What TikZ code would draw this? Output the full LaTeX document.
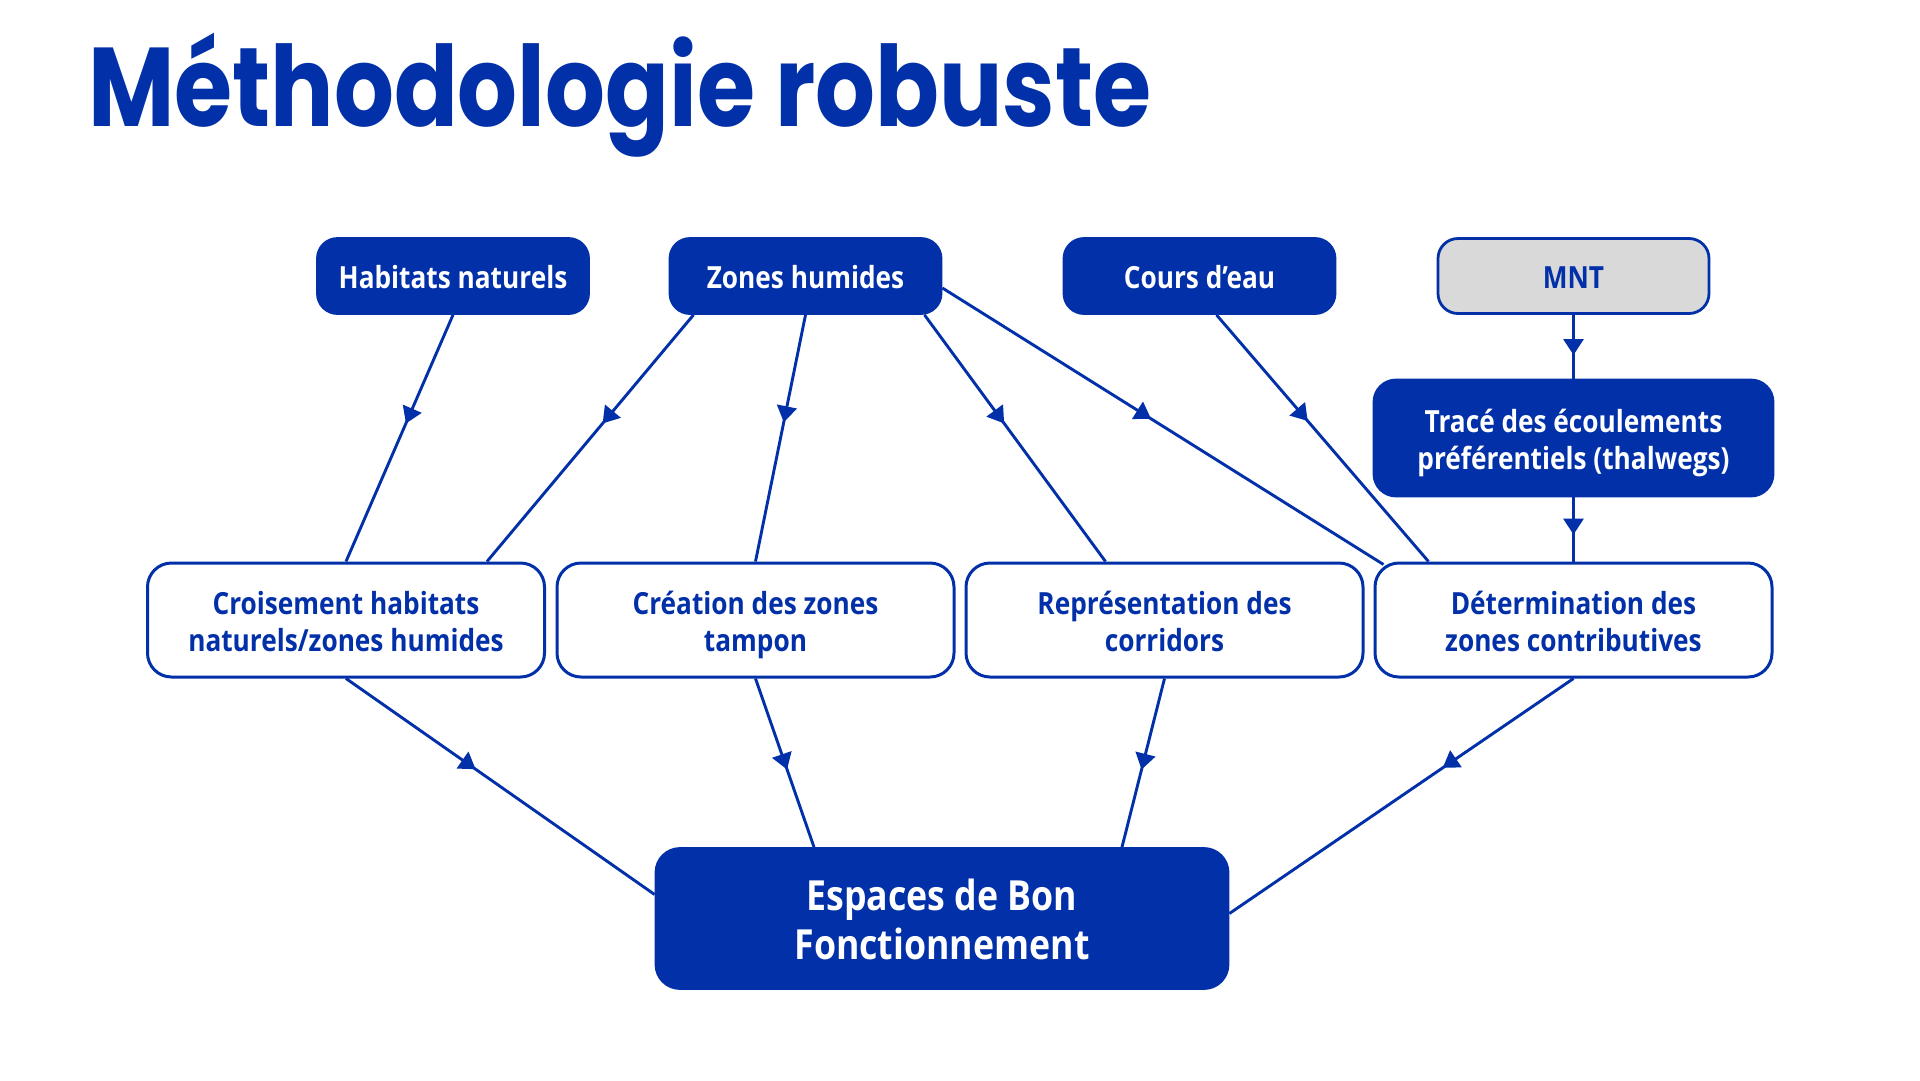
\documentclass[tikz,border=0pt]{standalone}
\usepackage{fontspec}
\setmainfont{Open Sans}[FakeStretch=0.86]
\newfontfamily\titlefont{Poppins}[FakeStretch=0.84]
\usetikzlibrary{arrows.meta,decorations.markings,calc}
\definecolor{bl}{HTML}{0230A8}
\definecolor{gr}{HTML}{D9D9D9}
\newcommand\mystrut{\rule[-0.25\baselineskip]{0pt}{1.18\baselineskip}}
\newcommand\boxfont[2]{\bfseries\fontsize{#1}{#2}\selectfont\lineskiplimit=-100pt\lineskip=0pt\relax}
\begin{document}
\begin{tikzpicture}[x=1pt,y=-1pt,
  base/.style={rectangle, draw=bl, line width=2.8pt, inner sep=0pt, align=center},
  topbox/.style={base, rounded corners=20pt, fill=bl, text=white, minimum width=271pt, minimum height=75pt, font=\boxfont{30.5}{37}},
  greybox/.style={topbox, fill=gr, text=bl},
  tracebox/.style={base, rounded corners=22pt, fill=bl, text=white, minimum width=399pt, minimum height=116pt, font=\boxfont{30.5}{37}},
  midbox/.style={base, rounded corners=24pt, fill=white, text=bl, line width=3pt, minimum width=397pt, minimum height=114pt, font=\boxfont{30.5}{37}},
  botbox/.style={base, rounded corners=24pt, fill=bl, text=white, minimum width=572pt, minimum height=140pt, font=\boxfont{41.5}{49}},
  conn/.style={draw=bl, line width=2.9pt, postaction={decorate}, decoration={markings, mark=at position #1 with {\arrow{Triangle[length=16pt,width=20pt]}}}},
  conn/.default=0.45
]
\fill[white] (0,0) rectangle (1920,1080);
\useasboundingbox (0,0) rectangle (1920,1080);

\node[anchor=base west, inner sep=0pt, text=bl, font=\titlefont\bfseries\fontsize{112}{112}\selectfont] (title) at (88,126) {Méthodologie robuste};

\node[topbox] (hab) at (453,276) {\mystrut Habitats naturels};
\node[topbox] (zh) at (805.5,276) {\mystrut Zones humides};
\node[topbox] (cou) at (1199.5,276) {\mystrut Cours d’eau};
\node[greybox] (mnt) at (1573.5,276) {\mystrut MNT};
\node[tracebox] (tra) at (1573.5,438) {\mystrut Tracé des écoulements\\\mystrut préférentiels (thalwegs)};

\node[midbox] (cro) at (346,620) {\mystrut Croisement habitats\\\mystrut naturels/zones humides};
\node[midbox] (cre) at (755.5,620) {\mystrut Création des zones\\\mystrut tampon};
\node[midbox] (rep) at (1164.5,620) {\mystrut Représentation des\\\mystrut corridors};
\node[midbox] (det) at (1573.5,620) {\mystrut Détermination des\\\mystrut zones contributives};

\node[botbox] (bot) at (942,918.5) {\mystrut Espaces de Bon\\\mystrut Fonctionnement};

\draw[conn=0.44] (hab.south) -- (cro.north);
\draw[conn=0.44] ($(zh.south)+(-112,0)$) -- ($(cro.north)+(141,0)$);
\draw[conn=0.435] (zh.south) -- (cre.north);
\draw[conn=0.44] ($(zh.south)+(119,0)$) -- ($(rep.north)+(-59,0)$);
\draw[conn=0.473] ($(zh.east)+(0,12)$) -- ($(det.north west)+(10,3)$);
\draw[conn=0.43] ($(cou.south)+(17,0)$) -- ($(det.north)+(-145,0)$);
\draw[conn=0.63] (mnt.south) -- (tra.north);
\draw[conn=0.58] (tra.south) -- (det.north);

\draw[conn=0.42] (cro.south) -- ($(bot.west)+(0,-24)$);
\draw[conn=0.54] (cre.south) -- ($(bot.north)+(-128,0)$);
\draw[conn=0.54] (rep.south) -- ($(bot.north)+(180,0)$);
\draw[conn=0.38] (det.south) -- ($(bot.east)+(0,-5)$);
\end{tikzpicture}
\end{document}
